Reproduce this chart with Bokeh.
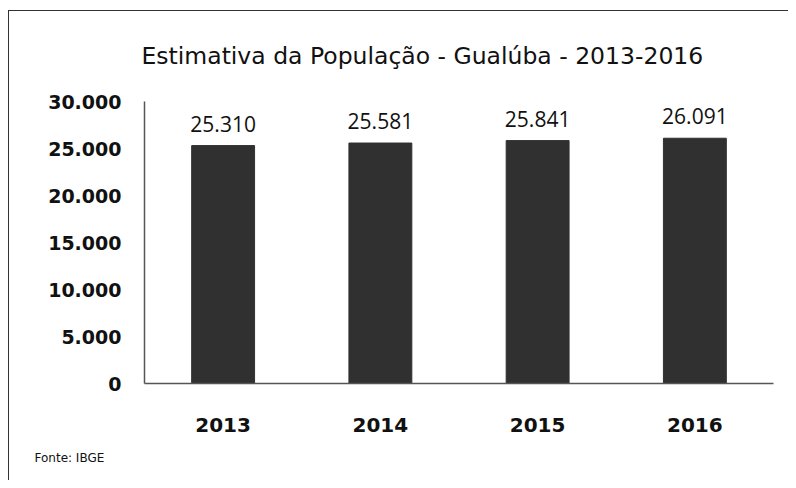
from bokeh.plotting import figure
from bokeh.models import ColumnDataSource, FixedTicker, LabelSet, Range1d, FactorRange, Title
from bokeh.core.properties import value
from bokeh.embed import file_html
from bokeh.resources import INLINE

title_text = "Estimativa da População - Gualúba - 2013-2016"
source_text = "Fonte: IBGE"
years = ["2013", "2014", "2015", "2016"]
population = [25310, 25581, 25841, 26091]
y_ticks = [0, 5000, 10000, 15000, 20000, 25000, 30000]

def br(v):
    return f"{v:,}".replace(",", ".")

src = ColumnDataSource(dict(year=years, pop=population, lab=[br(v) for v in population]))

p = figure(x_range=FactorRange(*years), y_range=Range1d(0, 30000),
           width=788, height=480, output_backend="svg", toolbar_location=None,
           min_border_left=144, min_border_right=15, min_border_top=101, min_border_bottom=97)
p.outline_line_color = None
p.xgrid.grid_line_color = None
p.ygrid.grid_line_color = None
p.background_fill_color = None
p.border_fill_color = None
p.styles = {
    "background": ("linear-gradient(#333,#333) 8px 10px / 790px 1px no-repeat, "
                   "linear-gradient(#333,#333) 8px 10px / 1px 480px no-repeat, white"),
}

p.vbar(x="year", top="pop", width=0.4, source=src, fill_color="#303030", line_color="#303030")

p.add_layout(LabelSet(x="year", y="pop", text="lab", source=src, text_align="center",
                      text_baseline="middle", y_offset=22, text_font_size="21px",
                      text_font=value("Open Sans"), text_color="#111"))

p.yaxis.ticker = FixedTicker(ticks=y_ticks)
p.yaxis.major_label_overrides = {t: br(t) for t in y_ticks}
p.yaxis.major_label_text_font = "DejaVu Sans"
p.yaxis.major_label_text_font_style = "bold"
p.yaxis.major_label_text_font_size = "19px"
p.yaxis.major_label_text_color = "#111"
p.yaxis.major_label_standoff = 17
p.xaxis.major_label_text_font = "DejaVu Sans"
p.xaxis.major_label_text_font_style = "bold"
p.xaxis.major_label_text_font_size = "20px"
p.xaxis.major_label_text_color = "#111"
p.xaxis.major_label_standoff = 28
for ax in (p.xaxis, p.yaxis):
    ax.major_tick_line_color = None
    ax.minor_tick_line_color = None
    ax.axis_line_color = "#555"
    ax.axis_line_width = 1.5

p.title = Title(text=title_text, align="left", offset=-3, standoff=63,
                text_font="DejaVu Sans", text_font_size="23.5px", text_font_style="normal",
                text_color="#111")
p.add_layout(Title(text=source_text, align="left", offset=-110, standoff=29,
                   text_font="DejaVu Sans", text_font_size="12px", text_font_style="normal",
                   text_color="#111"), "below")

open("out.html", "w").write(file_html(p, INLINE))
